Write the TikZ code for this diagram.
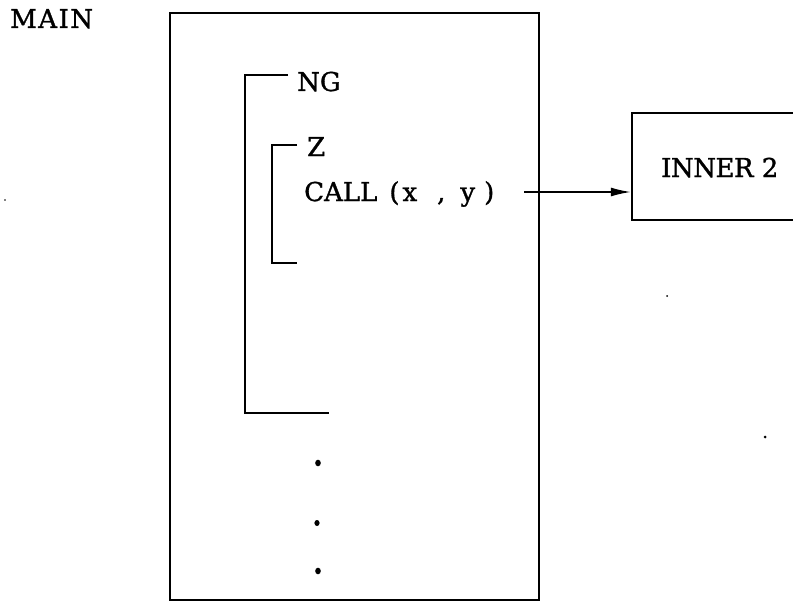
\documentclass[tikz,border=0pt]{standalone}
\usepackage{fontspec}
\setmainfont[FakeBold=1.2]{DejaVu Serif}
\usetikzlibrary{arrows.meta}
\begin{document}
\begin{tikzpicture}[x=1pt,y=-1pt,
  lbl/.style={font=\fontsize{26}{31}\selectfont, inner sep=0pt, anchor=base west},
  thickbox/.style={draw, line width=2.4pt, inner sep=0pt},
  bracket/.style={draw, line width=1.8pt},
  dotmark/.style={fill=black}]
\useasboundingbox (0,0) rectangle (793,602);
% boxes
\node[thickbox, minimum width=369pt, minimum height=587pt] (main) at (354.5,306.5) {};
\node[thickbox, minimum width=170pt, minimum height=107pt] (inner) at (717,166.5) {};
% labels
\node[lbl] (mainlabel) at (10,28) {M\kern1.5pt A\kern1.5pt I\kern1.5pt N};
\node[lbl] (ng) at (297,91) {NG};
\node[lbl] (z) at (307,156) {Z};
\node[lbl] (call) at (304,201) {CALL\kern12pt(\kern3pt x\kern20pt,\kern15pt y\kern9pt)};
\node[lbl] (innerlabel) at (661,177) {I\kern-0.5pt N\kern-0.5pt N\kern-0.5pt E\kern-0.5pt R 2};
% brackets
\coordinate (ngtop) at (288,75);
\coordinate (ngbot) at (329,413);
\draw[bracket] (ngtop) -- (245,75) -- (245,413) -- (ngbot);
\coordinate (ztop) at (297,145);
\coordinate (zbot) at (297,263);
\draw[bracket] (ztop) -- (272,145) -- (272,263) -- (zbot);
% arrow
\coordinate (arrstart) at (524,192);
\draw[line width=1.6pt, -{Latex[length=20pt,width=9pt]}] (arrstart) -- (arrstart -| inner.west);
% continuation dots
\fill[dotmark] (318,463) ellipse (2.8pt and 3.3pt);
\fill[dotmark] (317,523) ellipse (2.6pt and 3pt);
\fill[dotmark] (318,571) ellipse (2.8pt and 3.3pt);
% stray marks
\fill[dotmark] (667,296) circle (1pt);
\fill[dotmark] (765,437) circle (1.5pt);
\fill[dotmark] (5,200) circle (0.9pt);
\end{tikzpicture}
\end{document}
